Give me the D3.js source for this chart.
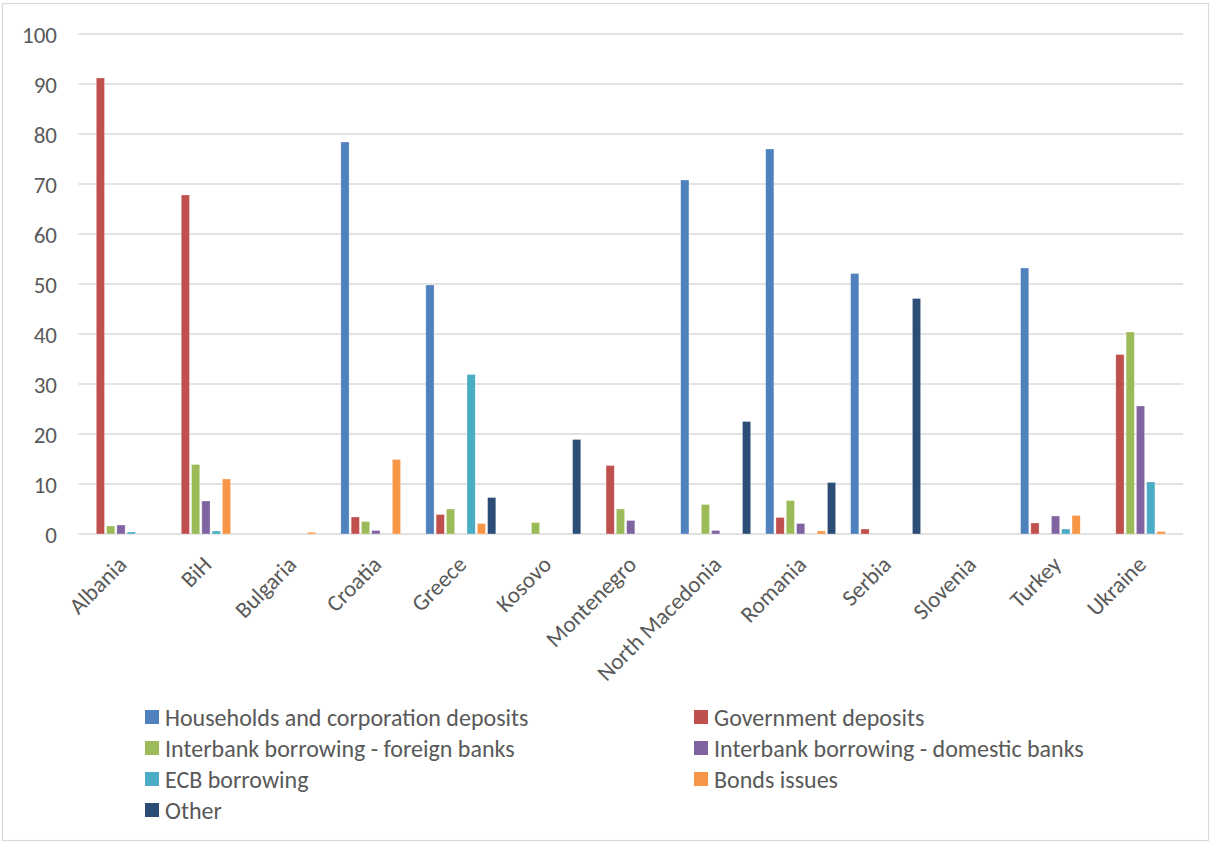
<!DOCTYPE html>
<html><head><meta charset="utf-8">
<script src="https://cdn.jsdelivr.net/npm/d3@7"></script>
<style>body{margin:0;background:#fff}svg{display:block}</style>
</head><body><svg id="c" width="1210" height="843"></svg>
<script>
const categories = ["Albania","BiH","Bulgaria","Croatia","Greece","Kosovo","Montenegro","North Macedonia","Romania","Serbia","Slovenia","Turkey","Ukraine"];
const seriesNames = ["Households and corporation deposits","Government deposits","Interbank borrowing - foreign banks","Interbank borrowing - domestic banks","ECB borrowing","Bonds issues","Other"];
const households = [0,0,0,78.4,49.8,0,0,70.8,77.0,52.1,0,53.2,0];
const government = [91.2,67.8,0,3.4,3.9,0,13.7,0,3.3,1.0,0,2.2,35.9];
const foreignBanks = [1.6,13.9,0,2.5,5.0,2.3,5.0,5.9,6.7,0,0,0,40.4];
const domesticBanks = [1.8,6.6,0,0.7,0,0,2.7,0.7,2.1,0,0,3.6,25.6];
const ecb = [0.4,0.6,0,0,31.9,0,0,0,0,0,0,1.0,10.4];
const bonds = [0,11.0,0.35,14.9,2.1,0,0,0,0.6,0,0,3.7,0.5];
const other = [0,0,0,0,7.3,18.9,0,22.5,10.3,47.1,0,0,0];
const yTicks = [0,10,20,30,40,50,60,70,80,90,100];
const colors = ["#4F81BD","#C0504D","#9BBB59","#8064A2","#4BACC6","#F79646","#2C4D75"];
const seriesValues = [households,government,foreignBanks,domesticBanks,ecb,bonds,other];

const svg = d3.select("#c");
const font = "Carlito, Calibri, Lato, 'Open Sans', sans-serif";
const textColor = "#595959";

svg.append("rect").attr("x",2.5).attr("y",3.5).attr("width",1206).attr("height",837)
  .attr("fill","#fff").attr("stroke","#d9d9d9").attr("stroke-width",1.2);

const x = d3.scaleBand().domain(categories).range([78.5,1183]).paddingInner(0).paddingOuter(0);
const y = d3.scaleLinear().domain([0,100]).range([534,34]);
const xs = d3.scaleBand().domain(d3.range(7)).range([0,70]).paddingInner(0.2);

// gridlines
svg.append("g").selectAll("line").data(yTicks).join("line")
  .attr("x1",78.5).attr("x2",1183).attr("y1",d=>y(d)).attr("y2",d=>y(d))
  .attr("stroke","#d9d9d9").attr("stroke-width",1.3);

// y axis labels
const yAxis = d3.axisLeft(y).tickValues(yTicks).tickSize(0).tickPadding(0);
const gy = svg.append("g").attr("transform","translate(57,0)").call(yAxis);
gy.select(".domain").remove();
gy.selectAll("text").attr("font-family",font).attr("font-size",23).attr("fill",textColor).attr("dy","0.36em");

// bars
const groups = svg.append("g").selectAll("g").data(categories).join("g")
  .attr("transform",d=>`translate(${x(d)+x.bandwidth()/2-35},0)`);
groups.selectAll("rect").data((c,i)=>seriesValues.map((s,k)=>({k,v:s[i]}))).join("rect")
  .filter(d=>d.v>0)
  .attr("x",d=>xs(d.k)).attr("width",xs.bandwidth())
  .attr("y",d=>y(d.v)).attr("height",d=>y(0)-y(d.v))
  .attr("fill",d=>colors[d.k]).attr("stroke","#fff").attr("stroke-opacity",0.5).attr("stroke-width",0.6);

// x labels
svg.append("g").selectAll("text").data(categories).join("text")
  .attr("transform",d=>`translate(${x(d)+x.bandwidth()/2+7},566) rotate(-45)`)
  .attr("text-anchor","end").attr("font-family",font).attr("font-size",23).attr("fill",textColor)
  .text(d=>d);

// legend
const legendPos = [[145,717],[694,717],[145,748],[694,748],[145,779],[694,779],[145,810]];
const lg = svg.append("g").selectAll("g").data(seriesNames).join("g")
  .attr("transform",(d,i)=>`translate(${legendPos[i][0]},${legendPos[i][1]})`);
lg.append("rect").attr("x",0).attr("y",-7).attr("width",14).attr("height",14).attr("fill",(d,i)=>colors[i]);
lg.append("text").attr("x",20).attr("y",0).attr("dy","0.36em").attr("font-family",font)
  .attr("font-size",24).attr("fill",textColor).text(d=>d);
</script></body></html>
